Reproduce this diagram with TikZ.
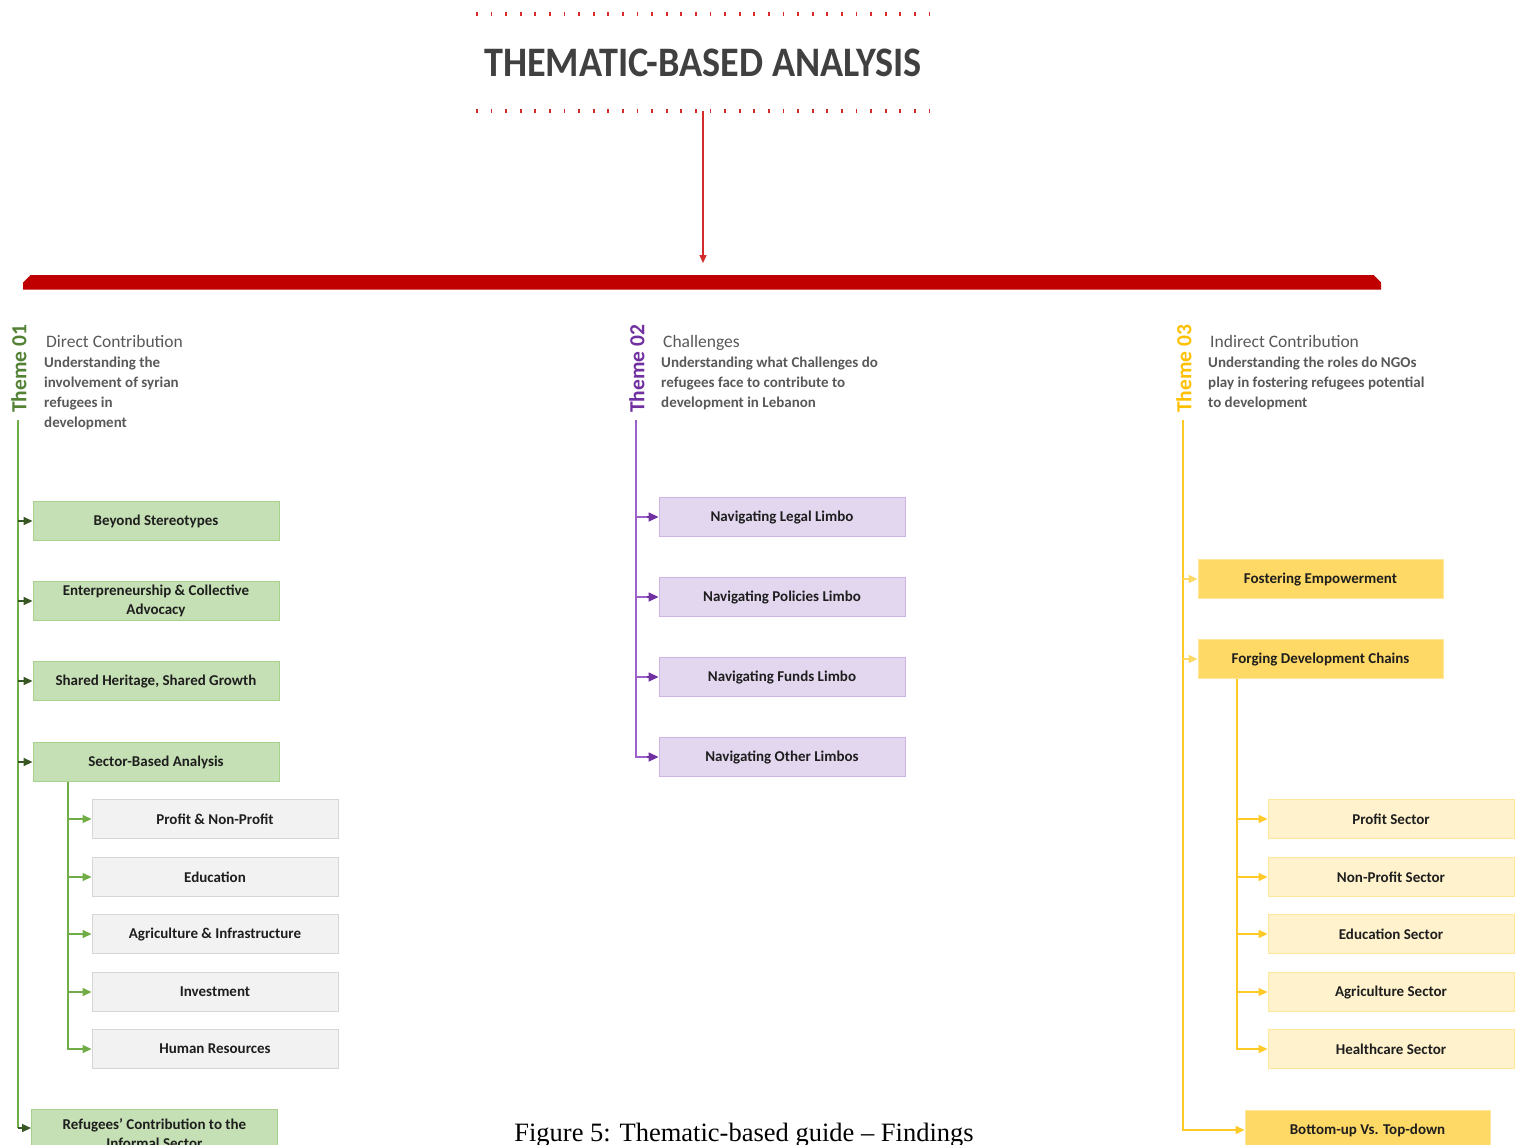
\documentclass[tikz,border=0pt]{standalone}
\usepackage{fontspec}
\setmainfont{Carlito}
\newfontfamily\capfont{Liberation Serif}
\usetikzlibrary{arrows.meta}

\definecolor{barred}{HTML}{C00000}
\definecolor{dotred}{HTML}{D42A2A}
\definecolor{titlegray}{HTML}{404040}
\definecolor{headgray}{HTML}{595959}
\definecolor{boxtext}{HTML}{1E1E1E}
% theme 01
\definecolor{gdark}{HTML}{548235}
\definecolor{garrow}{HTML}{385723}
\definecolor{gline}{HTML}{70AD47}
\definecolor{gfill}{HTML}{C5E0B4}
\definecolor{gborder}{HTML}{A9D18E}
\definecolor{grayfill}{HTML}{F2F2F2}
\definecolor{grayborder}{HTML}{D6D6D6}
% theme 02
\definecolor{pdark}{HTML}{7030A0}
\definecolor{pline}{HTML}{9A62C8}
\definecolor{pfill}{HTML}{E3D7F0}
\definecolor{pborder}{HTML}{CDB3E6}
% theme 03
\definecolor{ydark}{HTML}{FFC000}
\definecolor{yline}{HTML}{FFCA28}
\definecolor{yfill}{HTML}{FFD966}
\definecolor{yborder}{HTML}{FFE699}
\definecolor{ylight}{HTML}{FFF2CC}
\definecolor{ymid}{HTML}{FFD966}

\tikzset{
  box/.style={draw, line width=0.9pt, minimum width=246pt, minimum height=39pt,
    inner sep=2pt, align=center, text=boxtext,
    font=\fontsize{15}{19}\selectfont\bfseries},
  greenbox/.style={box, fill=gfill, draw=gborder},
  graybox/.style={box, fill=grayfill, draw=grayborder},
  purplebox/.style={box, fill=pfill, draw=pborder},
  yellowbox/.style={box, fill=yfill, draw=yborder},
  paleyellowbox/.style={box, fill=ylight, draw=yborder},
  themelabel/.style={rotate=90, inner sep=0pt, font=\fontsize{21.5}{22}\selectfont\bfseries},
  headline/.style={anchor=base west, inner sep=0pt, text=headgray,
    font=\fontsize{17.5}{20}\selectfont},
  subline/.style={anchor=base west, inner sep=0pt, text=headgray,
    font=\fontsize{15}{20}\selectfont\bfseries},
  tip/.style={-{Triangle[length=9pt,width=8pt]}},
  bigtip/.style={-{Triangle[length=10pt,width=9pt]}},
  trunk/.style={line width=1.5pt},
}

\begin{document}
\begin{tikzpicture}[x=1pt,y=-1pt]
\useasboundingbox[fill=white] (0,0) rectangle (1522,1144);

% ---- header ----
\draw[dotred, line width=3.5pt, dash pattern=on 1.8pt off 12.8pt] (476,14) -- (930,14);
\draw[dotred, line width=3.5pt, dash pattern=on 1.8pt off 12.8pt] (476,111) -- (930,111);
\node[text=titlegray, font=\fontsize{42}{42}\selectfont\bfseries] (title) at (703,63)
  {\scalebox{0.91}[1]{THEMATIC-BASED ANALYSIS}};
\coordinate (arrtop) at (703,111);
\coordinate (arrend) at (703,263);
\draw[dotred, line width=1.3pt, -{Triangle[length=8pt,width=7pt]}] (arrtop) -- (arrend);

% ---- red bar ----
\fill[barred] (23,289.5) -- (23,282.5) -- (30.5,275) -- (1373.5,275) -- (1381,282.5) -- (1381,289.5) -- cycle;

% ---- theme 01 ----
\node[themelabel, text=gdark] (th1) at (19,369) {Theme 01};
\node[headline] (h1) at (46,347) {Direct Contribution};
\foreach \txt [count=\i] in {Understanding the, involvement of syrian, refugees in, development}
  \node[subline] (s1-\i) at (44,367+20*\i-20) {\txt};
\coordinate (t1) at (18,420);

\node[greenbox] (b11) at (156,521) {Beyond Stereotypes};
\node[greenbox] (b12) at (156,601) {Enterpreneurship \& Collective\\Advocacy};
\node[greenbox] (b13) at (156,681) {Shared Heritage, Shared Growth};
\node[greenbox] (b14) at (156,762) {Sector-Based Analysis};
\node[greenbox, minimum height=48pt, anchor=north west] (b15) at (31,1109)
  {Refugees' Contribution to the\\Informal Sector};

\node[graybox] (c11) at (215,819) {Profit \& Non-Profit};
\node[graybox] (c12) at (215,877) {Education};
\node[graybox] (c13) at (215,934) {Agriculture \& Infrastructure};
\node[graybox] (c14) at (215,992) {Investment};
\node[graybox] (c15) at (215,1049) {Human Resources};

\draw[gline, trunk] (t1) |- (18,1128);
\draw[garrow, trunk, tip] (18,1128) -- (b15.west |- 0,1128);
\foreach \b in {b11,b12,b13,b14}
  \draw[garrow, trunk, tip] (t1 |- \b.west) -- (\b.west);

\coordinate (u1) at (68,781.5);
\draw[gline, trunk, tip] (u1) |- (c15.west);
\foreach \b in {c11,c12,c13,c14}
  \draw[gline, trunk, tip] (u1 |- \b.west) -- (\b.west);

% ---- theme 02 ----
\node[themelabel, text=pdark] (th2) at (637,369) {Theme 02};
\node[headline] (h2) at (663,347) {Challenges};
\foreach \txt [count=\i] in {Understanding what Challenges do, refugees face to contribute to, development in Lebanon}
  \node[subline] (s2-\i) at (661,367+20*\i-20) {\txt};
\coordinate (t2) at (636,420);

\node[purplebox] (b21) at (782,517) {Navigating Legal Limbo};
\node[purplebox] (b22) at (782,597) {Navigating Policies Limbo};
\node[purplebox] (b23) at (782,677) {Navigating Funds Limbo};
\node[purplebox] (b24) at (782,757) {Navigating Other Limbos};

\draw[pline, trunk] (t2) |- ([xshift=-9pt]b24.west);
\foreach \b in {b21,b22,b23}
  \draw[pline, trunk] (t2 |- \b.west) -- ([xshift=-9pt]\b.west);
\foreach \b in {b21,b22,b23,b24}
  \draw[pdark, trunk, bigtip] ([xshift=-12pt]\b.west) -- (\b.west);

% ---- theme 03 ----
\node[themelabel, text=ydark] (th3) at (1184,369) {Theme 03};
\node[headline] (h3) at (1210,347) {Indirect Contribution};
\foreach \txt [count=\i] in {Understanding the roles do NGOs, play in fostering refugees potential, to development}
  \node[subline] (s3-\i) at (1208,367+20*\i-20) {\txt};
\coordinate (t3) at (1183,420);

\node[yellowbox, minimum width=245pt] (b31) at (1320.5,579) {Fostering Empowerment};
\node[yellowbox, minimum width=245pt] (b32) at (1320.5,659) {Forging Development Chains};
\node[yellowbox, minimum width=245pt] (b33) at (1367.5,1130) {Bottom-up Vs. Top-down};

\node[paleyellowbox] (c31) at (1391,819) {Profit Sector};
\node[paleyellowbox] (c32) at (1391,877) {Non-Profit Sector};
\node[paleyellowbox] (c33) at (1391,934) {Education Sector};
\node[paleyellowbox] (c34) at (1391,992) {Agriculture Sector};
\node[paleyellowbox] (c35) at (1391,1049) {Healthcare Sector};

\draw[yline, trunk, tip] (t3) |- (b33.west);
\foreach \b in {b31,b32}
  \draw[ymid, trunk, tip] (t3 |- \b.west) -- (\b.west);

\coordinate (u3) at (1237,678.5);
\draw[yline, trunk, tip] (u3) |- (c35.west);
\foreach \b in {c31,c32,c33,c34}
  \draw[yline, trunk, tip] (u3 |- \b.west) -- (\b.west);

% ---- caption ----
\node[anchor=base, inner sep=0pt, font=\capfont\fontsize{26.5}{30}\selectfont] (cap) at (744,1141)
  {Figure 5: Thematic-based guide – Findings};
\end{tikzpicture}
\end{document}
